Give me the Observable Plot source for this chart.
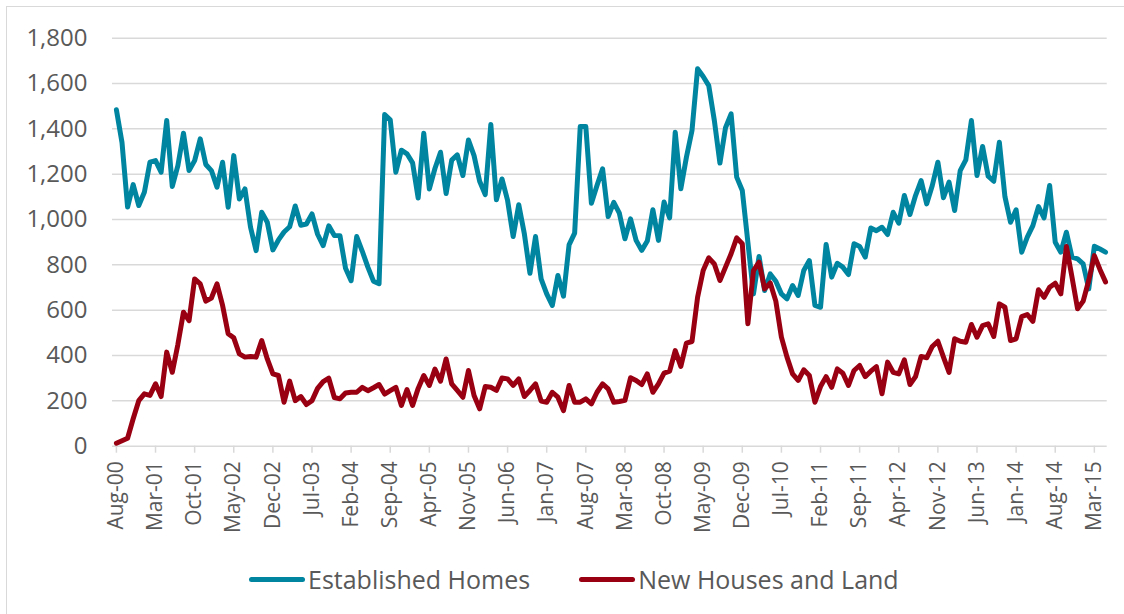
<!DOCTYPE html>
<html>
<head>
<meta charset="utf-8">
<script src="https://cdn.jsdelivr.net/npm/d3@7"></script>
<script src="https://cdn.jsdelivr.net/npm/@observablehq/plot@0.6"></script>
<style>
  html, body { margin: 0; padding: 0; background: #fff; }
  #wrap { position: relative; width: 1124px; height: 614px; overflow: hidden; font-family: "Open Sans", sans-serif; }
  #frame { position: absolute; left: 6px; top: 6px; width: 1130px; height: 620px; border: 1.5px solid #d9d9d9; box-sizing: border-box; pointer-events: none; }
  #chart { position: absolute; left: 0; top: 0; }
  #legend { position: absolute; left: 249px; top: 562px; height: 34px; display: flex; align-items: center; gap: 49px; color: #595959; font-size: 25px; }
  .item { display: flex; align-items: center; gap: 3px; white-space: nowrap; }
  .sw { width: 56px; height: 5px; border-radius: 3px; }
</style>
</head>
<body>
<div id="wrap">
  <div id="frame"></div>
  <div id="chart"></div>
  <div id="legend"></div>
</div>
<script>
// Tick labels (every 7 months starting Aug-00)
const tickLabels = ["Aug-00","Mar-01","Oct-01","May-02","Dec-02","Jul-03","Feb-04","Sep-04","Apr-05","Nov-05",
  "Jun-06","Jan-07","Aug-07","Mar-08","Oct-08","May-09","Dec-09","Jul-10","Feb-11","Sep-11",
  "Apr-12","Nov-12","Jun-13","Jan-14","Aug-14","Mar-15"];
const tickStepMonths = 7;

const seriesNames = ["Established Homes", "New Houses and Land"];
const seriesColors = ["#0085a1", "#990011"];

// Monthly values, Aug-00 .. May-15
const establishedHomes = [
  1484,1340,1055,1154,1062,1120,1253,1260,1209,1437,1146,1238,1381,1216,1260,1356,1243,1216,1143,1253,
  1054,1282,1091,1135,966,863,1032,988,866,910,945,968,1060,975,980,1025,935,885,972,930,
  929,785,730,925,860,790,728,717,1463,1440,1209,1306,1290,1250,1095,1381,1135,1225,1297,1115,
  1262,1285,1194,1351,1282,1169,1110,1419,1087,1179,1084,925,1065,937,763,925,738,672,621,753,
  662,888,940,1410,1410,1072,1150,1224,1013,1076,1028,915,1003,908,864,905,1043,908,1077,1007,
  1385,1136,1275,1393,1665,1631,1591,1437,1249,1405,1466,1187,1128,900,672,837,687,760,728,672,
  650,709,665,775,819,621,613,890,746,807,790,757,893,881,834,963,951,966,934,1032,
  984,1106,1022,1106,1172,1069,1150,1253,1096,1165,1040,1216,1263,1437,1194,1322,1191,1169,1341,1101,
  988,1043,856,922,973,1057,1007,1150,900,856,944,834,826,804,694,882,870,856
];
const newHousesAndLand = [
  13,24,35,121,201,231,224,275,219,415,326,449,591,554,738,716,640,654,716,621,
  496,478,407,393,396,393,466,385,319,312,194,287,201,219,184,201,255,285,300,215,
  209,235,238,238,260,245,258,272,230,245,260,180,250,180,255,312,268,340,287,385,
  275,246,216,334,224,165,263,260,246,301,297,268,297,219,246,275,199,194,238,216,
  157,268,194,194,209,187,238,275,253,194,197,202,302,290,272,319,238,275,322,331,
  422,352,455,462,657,775,831,804,731,790,849,919,893,540,775,812,694,720,640,481,
  393,319,290,337,312,194,263,307,260,341,322,268,334,356,307,331,351,231,371,326,
  319,381,272,307,396,390,440,463,393,326,474,463,459,537,481,532,540,484,628,613,
  466,474,572,581,551,690,657,701,719,672,881,746,606,640,731,841,780,725
];
const yTicks = [0,200,400,600,800,1000,1200,1400,1600,1800];

const table = [];
establishedHomes.forEach((v, i) => table.push({m: i, value: v, series: seriesNames[0]}));
newHousesAndLand.forEach((v, i) => table.push({m: i, value: v, series: seriesNames[1]}));
const xTicks = tickLabels.map((_, k) => k * tickStepMonths);
const n = establishedHomes.length;

const chart = Plot.plot({
  width: 1124,
  height: 550,
  marginLeft: 112,
  marginRight: 17.3,
  marginTop: 37.7,
  marginBottom: 104.3,
  style: {fontFamily: "'Open Sans', sans-serif", background: "transparent"},
  x: {type: "linear", domain: [-0.7, n - 1 + 0.3]},
  y: {domain: [0, 1800]},
  color: {domain: seriesNames, range: seriesColors},
  marks: [
    Plot.ruleY(yTicks, {stroke: "#d9d9d9", strokeWidth: 1.5}),
    Plot.axisY({ticks: yTicks, tickFormat: d3.format(","), tickSize: 0, tickPadding: 25,
      fontSize: 24, fill: "#595959", label: null}),
    Plot.axisX({ticks: xTicks, tickFormat: d => tickLabels[d / tickStepMonths], tickRotate: -90,
      tickSize: 7, tickPadding: 8, stroke: "#d9d9d9", strokeWidth: 1.5, fontSize: 21, fill: "#595959", label: null}),
    Plot.lineY(table, {x: "m", y: "value", z: "series", stroke: "series", strokeWidth: 5,
      strokeLinejoin: "round", strokeLinecap: "round"})
  ]
});
document.getElementById("chart").appendChild(chart);

const legend = document.getElementById("legend");
seriesNames.forEach((name, k) => {
  const item = document.createElement("div");
  item.className = "item";
  const sw = document.createElement("div");
  sw.className = "sw";
  sw.style.background = seriesColors[k];
  const tx = document.createElement("span");
  tx.textContent = name;
  item.appendChild(sw);
  item.appendChild(tx);
  legend.appendChild(item);
});
</script>
</body>
</html>
